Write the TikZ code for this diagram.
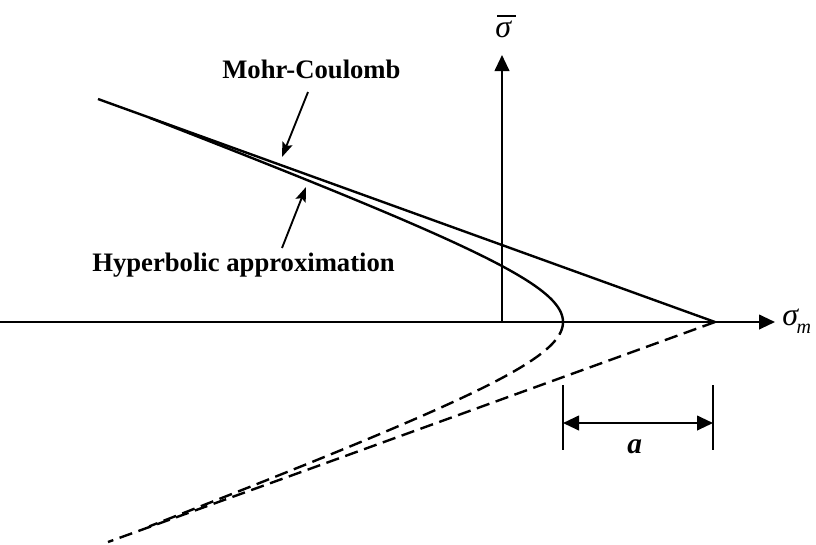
\documentclass[tikz,border=0pt]{standalone}
\usepackage{fontspec}
\setmainfont{Liberation Serif}
\usetikzlibrary{arrows.meta}
\begin{document}
\begin{tikzpicture}[x=0.75pt,y=-0.75pt,
  curve/.style={line width=1.8pt},
  dsh/.style={line width=1.8pt,dash pattern=on 10pt off 5pt},
  axis/.style={line width=1.5pt,-{Triangle[length=12pt,width=11pt]}},
  dim/.style={line width=1.5pt,{Triangle[length=12pt,width=11pt]}-{Triangle[length=12pt,width=11pt]}},
  pointer/.style={line width=1.4pt,-{Stealth[length=11pt,width=8pt,inset=2pt]}},
  lbl/.style={font=\fontsize{20}{24}\selectfont\bfseries,inner sep=0pt},
  sym/.style={font=\fontsize{24}{26}\selectfont\itshape,inner sep=0pt}]
\useasboundingbox (0,0) rectangle (816,544);
% key points
\coordinate (L) at (0,322);
\coordinate (X) at (775,322);
\coordinate (O) at (502,322);
\coordinate (Y) at (502,55);
\coordinate (V) at (715,322);
\coordinate (MCa) at (98,99);
\coordinate (MCb) at (108,542);
\coordinate (T1) at (563,385);
\coordinate (T1b) at (563,450);
\coordinate (T2) at (713,385);
\coordinate (T2b) at (713,450);
\coordinate (D1) at (563,423);
\coordinate (D2) at (713,423);
\coordinate (B1) at (497,16);
\coordinate (B2) at (516,16);
% axes
\draw[axis] (L) -- (X);
\draw[axis] (O) -- (Y);
\node[sym,anchor=base west] (sm) at (782,325) {σ\kern-1pt\raisebox{-6pt}{\fontsize{15}{16}\selectfont m}};
\node[sym,anchor=base west] (sbar) at (495,37) {σ};
\draw[line width=1pt] (B1) -- (B2);
% Mohr-Coulomb lines
\draw[curve] (MCa) -- (V);
\draw[dsh] (V) -- (MCb);
% hyperbola
\draw[curve] plot[domain=0:1.99,samples=80,variable=\t] ({715-152*cosh(\t)},{322-57*sinh(\t)});
\draw[dsh] plot[domain=0:1.99,samples=80,variable=\t] ({715-152*cosh(\t)},{322+57*sinh(\t)});
% labels and pointers
\node[lbl,anchor=base west] (mc) at (222,78) {Mohr-Coulomb};
\coordinate (mcp) at (282,157);
\draw[pointer] (308,92) -- (mcp);
\node[lbl,anchor=base west] (hyp) at (92,271) {Hyperbolic approximation};
\coordinate (hpp) at (306,187);
\draw[pointer] (282,248) -- (hpp);
% dimension a
\draw[line width=1.4pt] (T1) -- (T1b);
\draw[line width=1.4pt] (T2) -- (T2b);
\draw[dim] (D1) -- (D2);
\node[inner sep=0pt,anchor=base west,font=\fontsize{22}{24}\selectfont\bfseries\itshape] (alab) at (627,453) {a};
\end{tikzpicture}
\end{document}
